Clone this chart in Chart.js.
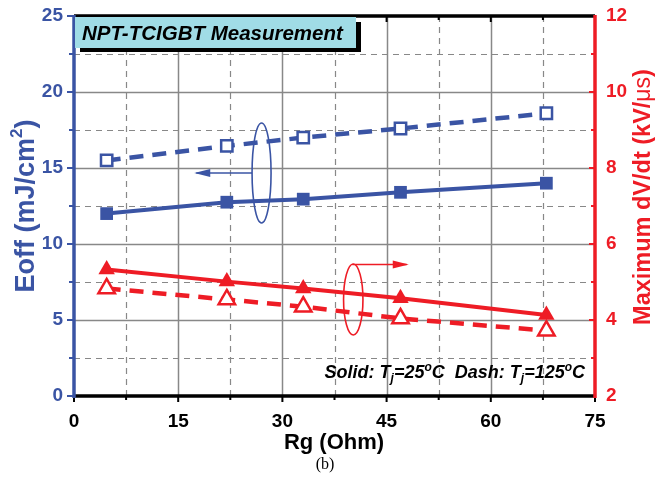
<!DOCTYPE html>
<html>
<head>
<meta charset="utf-8">
<script src="https://cdn.jsdelivr.net/npm/chart.js@4.4.1/dist/chart.umd.min.js"></script>
<style>
  html, body { margin: 0; padding: 0; background: #ffffff; }
  #wrap { position: relative; width: 655px; height: 487px; }
</style>
</head>
<body>
<div id="wrap"><canvas id="chart"></canvas></div>
<script>
// Rg values (Ohm) on the x axis
const rgValues = [4.7, 22, 33, 47, 68];
// Eoff (mJ/cm2), left axis
const eoffSolid = [12.0, 12.75, 12.95, 13.4, 14.0];   // Tj = 25 C
const eoffDash = [15.5, 16.45, 17.0, 17.6, 18.6];     // Tj = 125 C
// Maximum dV/dt (kV/us), right axis
const dvdtSolid = [5.33, 5.01, 4.83, 4.57, 4.13];     // Tj = 25 C
const dvdtDash = [4.83, 4.54, 4.35, 4.04, 3.72];      // Tj = 125 C

const xTicks = [0, 15, 30, 45, 60, 75];
const leftTicks = [0, 5, 10, 15, 20, 25];
const rightTicks = [2, 4, 6, 8, 10, 12];

const BLUE = "#3a54a4";
const RED = "#ee1c25";
const FONT = "'Liberation Sans', Arial, sans-serif";

const toPoints = (ys) => rgValues.map((x, i) => ({ x: x, y: ys[i] }));

// grid, axis frame and tick marks
const framePlugin = {
  id: "frame",
  beforeDatasetsDraw(chart) {
    const { ctx, chartArea: a, scales } = chart;
    const x = scales.x, y = scales.y;
    ctx.save();
    ctx.strokeStyle = "#888888";
    for (let v = 7.5; v < 75; v += 7.5) {
      const px = Math.round(x.getPixelForValue(v)) + 0.5;
      const major = Math.abs(v % 15) < 1e-6;
      ctx.lineWidth = major ? 1.5 : 1.2;
      ctx.setLineDash(major ? [] : [6, 5]);
      ctx.beginPath();
      ctx.moveTo(px, a.top);
      ctx.lineTo(px, a.bottom);
      ctx.stroke();
    }
    for (let v = 2.5; v < 25; v += 2.5) {
      const py = Math.round(y.getPixelForValue(v)) + 0.5;
      const major = Math.abs(v % 5) < 1e-6;
      ctx.lineWidth = major ? 1.5 : 1.2;
      ctx.setLineDash(major ? [] : [6, 5]);
      ctx.beginPath();
      ctx.moveTo(a.left, py);
      ctx.lineTo(a.right, py);
      ctx.stroke();
    }
    ctx.restore();
  },
  afterDatasetsDraw(chart) {
    const { ctx, chartArea: a, scales } = chart;
    const x = scales.x, y = scales.y, y1 = scales.y1;
    ctx.save();
    ctx.setLineDash([]);
    // tick marks on top / bottom
    ctx.strokeStyle = "#000";
    ctx.lineWidth = 2;
    for (let v = 0; v <= 75; v += 7.5) {
      const px = x.getPixelForValue(v);
      const len = Math.abs(v % 15) < 1e-6 ? 6 : 4;
      ctx.beginPath();
      ctx.moveTo(px, a.bottom);
      ctx.lineTo(px, a.bottom + len);
      ctx.moveTo(px, a.top);
      ctx.lineTo(px, a.top + len);
      ctx.stroke();
    }
    ctx.strokeStyle = BLUE;
    for (let v = 0; v <= 25; v += 2.5) {
      const py = y.getPixelForValue(v);
      ctx.beginPath();
      ctx.moveTo(a.left, py);
      ctx.lineTo(a.left - (Math.abs(v % 5) < 1e-6 ? 7 : 5), py);
      ctx.stroke();
    }
    ctx.strokeStyle = RED;
    for (let v = 2; v <= 12; v += 1) {
      const py = y1.getPixelForValue(v);
      ctx.beginPath();
      ctx.moveTo(a.right, py);
      ctx.lineTo(a.right - (v % 2 === 0 ? 6 : 4), py);
      ctx.stroke();
    }
    // frame
    ctx.lineWidth = 3.5;
    ctx.strokeStyle = "#000";
    ctx.beginPath();
    ctx.moveTo(a.left, a.top);
    ctx.lineTo(a.right, a.top);
    ctx.moveTo(a.left, a.bottom);
    ctx.lineTo(a.right, a.bottom);
    ctx.stroke();
    ctx.strokeStyle = BLUE;
    ctx.beginPath();
    ctx.moveTo(a.left, a.top - 1);
    ctx.lineTo(a.left, a.bottom + 2);
    ctx.stroke();
    ctx.strokeStyle = RED;
    ctx.beginPath();
    ctx.moveTo(a.right, a.top - 1);
    ctx.lineTo(a.right, a.bottom + 2);
    ctx.stroke();
    ctx.restore();
  },
};

// text pieces with sub / superscripts
function drawRich(ctx, parts, x, y, align) {
  ctx.textAlign = "left";
  let total = 0;
  parts.forEach((p) => {
    ctx.font = p.font;
    total += ctx.measureText(p.t).width;
  });
  let cx = align === "center" ? x - total / 2 : align === "right" ? x - total : x;
  parts.forEach((p) => {
    ctx.font = p.font;
    ctx.fillText(p.t, cx, y + (p.dy || 0));
    cx += ctx.measureText(p.t).width;
  });
}

function arrowLine(ctx, x0, y0, x1, y1, color) {
  ctx.strokeStyle = color;
  ctx.fillStyle = color;
  ctx.lineWidth = 1.6;
  ctx.beginPath();
  ctx.moveTo(x0, y0);
  ctx.lineTo(x1, y1);
  ctx.stroke();
  const dir = Math.sign(x1 - x0);
  ctx.beginPath();
  ctx.moveTo(x1 + dir * 2, y1);
  ctx.lineTo(x1 - dir * 14, y1 - 4);
  ctx.lineTo(x1 - dir * 14, y1 + 4);
  ctx.closePath();
  ctx.fill();
}

const notesPlugin = {
  id: "notes",
  afterDraw(chart) {
    const { ctx, chartArea: a, scales } = chart;
    const x = scales.x, y = scales.y, y1 = scales.y1;
    ctx.save();
    ctx.textBaseline = "alphabetic";

    // title box with shadow
    ctx.fillStyle = "#000";
    ctx.fillRect(a.left + 6, a.top + 6, 281, 30);
    ctx.fillStyle = "#a0dce6";
    ctx.fillRect(a.left + 1, a.top + 1, 281, 31);
    ctx.fillStyle = "#000";
    ctx.font = "italic bold 20.5px " + FONT;
    ctx.fillText("NPT-TCIGBT Measurement", a.left + 8, a.top + 24);

    // ellipses with arrows
    ctx.lineWidth = 1.6;
    ctx.strokeStyle = BLUE;
    const bx = x.getPixelForValue(27), by = y.getPixelForValue(14.67);
    ctx.beginPath();
    ctx.ellipse(bx, by, 9.5, 50, 0, 0, Math.PI * 2);
    ctx.stroke();
    arrowLine(ctx, bx - 9.5, by, x.getPixelForValue(17.6), by, BLUE);

    ctx.strokeStyle = RED;
    ctx.lineWidth = 1.6;
    const rx = x.getPixelForValue(40.2), ry = y1.getPixelForValue(4.54);
    ctx.beginPath();
    ctx.ellipse(rx, ry, 9.7, 35.5, 0, 0, Math.PI * 2);
    ctx.stroke();
    arrowLine(ctx, rx - 1, ry - 35, x.getPixelForValue(47.9), ry - 35, RED);

    // condition note
    ctx.fillStyle = "#000";
    const big = "italic bold 18px " + FONT;
    const small = "italic bold 12px " + FONT;
    drawRich(ctx, [
      { t: "Solid: T", font: big },
      { t: "j", font: small, dy: 4 },
      { t: "=25", font: big },
      { t: "o", font: small, dy: -7 },
      { t: "C  Dash: T", font: big },
      { t: "j", font: small, dy: 4 },
      { t: "=125", font: big },
      { t: "o", font: small, dy: -7 },
      { t: "C", font: big },
    ], 585, 378, "right");

    // axis titles
    ctx.fillStyle = "#000";
    ctx.font = "bold 22px " + FONT;
    ctx.textAlign = "center";
    ctx.fillText("Rg (Ohm)", 334, 449);

    ctx.font = "16px 'Liberation Serif', 'Times New Roman', serif";
    ctx.fillText("(b)", 325, 469);

    ctx.save();
    ctx.translate(34, 206);
    ctx.rotate(-Math.PI / 2);
    ctx.fillStyle = BLUE;
    drawRich(ctx, [
      { t: "Eoff (mJ/cm", font: "bold 27px " + FONT },
      { t: "2", font: "bold 17px " + FONT, dy: -12 },
      { t: ")", font: "bold 27px " + FONT },
    ], 0, 0, "center");
    ctx.restore();

    ctx.save();
    ctx.translate(650, 197);
    ctx.rotate(-Math.PI / 2);
    ctx.fillStyle = RED;
    drawRich(ctx, [
      { t: "Maximum dV/dt (kV/", font: "bold 23.5px " + FONT },
      { t: "\u03bcs", font: "23px " + FONT },
      { t: ")", font: "bold 23.5px " + FONT },
    ], 0, 0, "center");
    ctx.restore();

    ctx.restore();
  },
};

const tickFont = { family: FONT, size: 19, weight: "bold" };

// fixed axis box sizes so the plot area sits where the reference has it
const fitV = (w) => (s) => { s.width = w; s.paddingTop = 0; s.paddingBottom = 0; };

new Chart(document.getElementById("chart"), {
  type: "scatter",
  data: {
    datasets: [
      {
        data: toPoints(eoffSolid),
        yAxisID: "y",
        showLine: true,
        borderColor: BLUE,
        backgroundColor: BLUE,
        borderWidth: 4,
        pointStyle: "rect",
        pointRadius: 9,
        pointBorderWidth: 0,
      },
      {
        data: toPoints(eoffDash),
        yAxisID: "y",
        showLine: true,
        borderColor: BLUE,
        backgroundColor: "#ffffff",
        borderWidth: 4.5,
        borderDash: [14, 9],
        pointStyle: "rect",
        pointRadius: 8,
        pointBorderWidth: 2.5,
        pointBorderColor: BLUE,
      },
      {
        data: toPoints(dvdtSolid),
        yAxisID: "y1",
        showLine: true,
        borderColor: RED,
        backgroundColor: RED,
        borderWidth: 4,
        pointStyle: "triangle",
        pointRadius: 9.5,
        pointBorderWidth: 0,
      },
      {
        data: toPoints(dvdtDash),
        yAxisID: "y1",
        showLine: true,
        borderColor: RED,
        backgroundColor: "#ffffff",
        borderWidth: 4.5,
        borderDash: [14, 9],
        pointStyle: "triangle",
        pointRadius: 9.5,
        pointBorderWidth: 2.5,
        pointBorderColor: RED,
      },
    ],
  },
  options: {
    animation: false,
    responsive: true,
    maintainAspectRatio: false,
    layout: { padding: { top: 16, left: 0, right: 0, bottom: 0 } },
    plugins: {
      legend: { display: false },
      tooltip: { enabled: false },
    },
    scales: {
      x: {
        type: "linear",
        position: "bottom",
        min: 0,
        max: 75,
        afterBuildTicks: (s) => { s.ticks = xTicks.map((v) => ({ value: v })); },
        afterFit: (s) => { s.height = 91; s.paddingLeft = 0; s.paddingRight = 0; },
        grid: { display: false, drawTicks: false },
        border: { display: false },
        ticks: { color: "#000", font: tickFont, padding: 14, maxRotation: 0 },
      },
      y: {
        position: "left",
        min: 0,
        max: 25,
        afterBuildTicks: (s) => { s.ticks = leftTicks.map((v) => ({ value: v })); },
        afterFit: fitV(74),
        grid: { display: false, drawTicks: false },
        border: { display: false },
        ticks: { color: BLUE, font: tickFont, padding: 11 },
      },
      y1: {
        position: "right",
        min: 2,
        max: 12,
        afterBuildTicks: (s) => { s.ticks = rightTicks.map((v) => ({ value: v })); },
        afterFit: fitV(60),
        grid: { display: false, drawTicks: false },
        border: { display: false },
        ticks: { color: RED, font: tickFont, padding: 11 },
      },
    },
  },
  plugins: [framePlugin, notesPlugin],
});
</script>
</body>
</html>
